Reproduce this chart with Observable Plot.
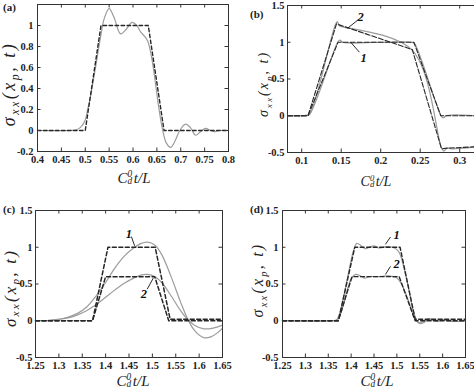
<!DOCTYPE html>
<html><head><meta charset="utf-8">
<script src="https://cdn.jsdelivr.net/npm/d3@7"></script>
<script src="https://cdn.jsdelivr.net/npm/@observablehq/plot@0.6"></script>
<style>
html,body{margin:0;padding:0;background:#fff;}
#root{position:relative;width:474px;height:390px;overflow:hidden;font-family:"Liberation Serif",serif;color:#222;}
.panel{position:absolute;}
.plab{position:absolute;font:bold 11px "Liberation Serif",serif;}
.ylab{position:absolute;transform:translate(-50%,-50%) rotate(-90deg);white-space:nowrap;font-family:"Liberation Serif",serif;font-style:italic;}
.ylab sub{font-size:0.66em;vertical-align:-0.35em;}
.xlab{position:absolute;transform:translate(-50%,-50%);white-space:nowrap;font-family:"Liberation Serif",serif;font-style:italic;}
.stk{position:relative;display:inline-block;width:0.42em;height:1em;vertical-align:top;}
.stk span{position:absolute;left:0;font-size:0.62em;line-height:1;}
.stk .sp{top:-0.05em;}
.stk .sb{top:0.72em;}
</style></head><body><div id="root"></div><script>
// ---------- data ----------
// panel (a)
const aDashX = [0.40, 0.50, 0.533, 0.632, 0.665, 0.80];
const aDash  = [0, 0, 1, 1, 0, 0];
const aX = [0.40,0.47,0.48,0.49,0.50,0.505,0.51,0.5215,0.532,0.54,0.55,0.56,0.574,0.585,0.598,0.608,0.616,0.63,0.64,0.647,0.654,0.661,0.67,0.679,0.688,0.698,0.71,0.72,0.731,0.742,0.752,0.762,0.77,0.78,0.80];
const aSolid = [0,0,0.005,0.03,0.1,0.2,0.3,0.6,0.89,1.07,1.16,1.08,0.92,0.96,1.03,1.0,0.94,0.86,0.67,0.45,0.22,0.03,-0.12,-0.16,-0.1,0.0,0.06,0.03,-0.045,-0.01,0.02,0.0,-0.01,0.0,0];
const aXTicks = [0.4,0.45,0.5,0.55,0.6,0.65,0.7,0.75,0.8];
const aYTicks = [-0.2,0,0.2,0.4,0.6,0.8,1];

// panel (b)
const b1DashX = [0.082, 0.108, 0.146, 0.242, 0.276, 0.324];
const b1Dash  = [0, 0, 1, 1, 0, 0];
const b2DashX = [0.082, 0.108, 0.144, 0.240, 0.277, 0.285, 0.324];
const b2Dash  = [0, 0, 1.25, 0.9, -0.45, -0.44, -0.42];
const b1X = [0.082,0.106,0.11,0.145,0.148,0.152,0.16,0.24,0.243,0.276,0.279,0.283,0.29,0.324];
const b1Solid = [0,0.005,0.02,0.99,1.03,1.0,0.99,1.0,0.98,0.01,-0.03,0,0.01,0];
const b2X = [0.082,0.106,0.11,0.142,0.145,0.148,0.152,0.24,0.277,0.28,0.284,0.29,0.324];
const b2Solid = [0,0.005,0.02,1.22,1.28,1.22,1.21,0.89,-0.44,-0.48,-0.44,-0.45,-0.42];
const bXTicks = [0.1,0.15,0.2,0.25,0.3];
const bYTicks = [-0.5,0,0.5,1,1.5];
const bNotes = [{t:"2", x:0.1747, y:1.34, x1:0.158, y1:1.19, x2:0.172, y2:1.31},
                {t:"1", x:0.1785, y:0.79, x1:0.162, y1:1.0, x2:0.173, y2:0.865}];

// panel (c)
const c1DashX = [1.25, 1.372, 1.405, 1.506, 1.538, 1.65];
const c1Dash  = [0, 0, 1, 1, 0.02, 0.02];
const c2DashX = [1.25, 1.372, 1.40, 1.505, 1.535, 1.65];
const c2Dash  = [0, 0, 0.6, 0.6, 0, 0];
const c1X = [1.25,1.28,1.30,1.32,1.34,1.36,1.38,1.40,1.42,1.44,1.46,1.475,1.49,1.505,1.52,1.54,1.56,1.575,1.59,1.61,1.625,1.64,1.65];
const c1Solid = [0,0.005,0.02,0.05,0.1,0.19,0.34,0.52,0.72,0.88,0.99,1.05,1.07,1.03,0.9,0.6,0.26,0.03,-0.13,-0.23,-0.22,-0.16,-0.1];
const c2X = [1.25,1.28,1.30,1.32,1.34,1.36,1.38,1.40,1.42,1.44,1.46,1.475,1.49,1.505,1.52,1.54,1.56,1.575,1.59,1.61,1.63,1.65];
const c2Solid = [0,0.005,0.02,0.04,0.08,0.14,0.22,0.32,0.42,0.51,0.58,0.62,0.63,0.6,0.52,0.34,0.14,0.02,-0.06,-0.11,-0.1,-0.06];
const cdXTicks = [1.25,1.3,1.35,1.4,1.45,1.5,1.55,1.6,1.65];
const cdYTicks = [-0.5,0,0.5,1,1.5];
const cNotes = [{t:"1", x:1.4496, y:1.18, x1:1.455, y1:1.146, x2:1.462, y2:1.02},
                {t:"2", x:1.4817, y:0.364, x1:1.489, y1:0.43, x2:1.502, y2:0.58}];

// panel (d)
const d1DashX = [1.25, 1.372, 1.408, 1.507, 1.54, 1.65];
const d1Dash  = [0, 0, 1, 1, 0.02, 0.02];
const d2DashX = [1.25, 1.372, 1.402, 1.505, 1.54, 1.65];
const d2Dash  = [0, 0, 0.6, 0.6, 0, 0];
const d1X = [1.25,1.36,1.368,1.375,1.405,1.412,1.42,1.43,1.44,1.45,1.46,1.47,1.48,1.495,1.505,1.52,1.54,1.55,1.56,1.57,1.58,1.59,1.60,1.61,1.62,1.635,1.65];
const d1Solid = [0,0,0.01,0.1,0.95,1.05,1.03,0.98,1.0,1.02,0.99,1.0,1.01,0.99,0.93,0.6,0.05,-0.04,-0.02,0.03,0.01,-0.01,0.02,0,0.01,-0.01,0.01];
const d2X = [1.25,1.36,1.368,1.375,1.40,1.41,1.42,1.43,1.44,1.46,1.48,1.50,1.51,1.525,1.54,1.55,1.56,1.57,1.58,1.60,1.62,1.65];
const d2Solid = [0,0,0.008,0.06,0.57,0.63,0.61,0.58,0.6,0.6,0.61,0.58,0.5,0.28,0.02,-0.03,0,0.02,0,0.01,-0.01,0];
const dNotes = [{t:"1", x:1.4997, y:1.16, x1:1.475, y1:1.04, x2:1.486, y2:1.14},
                {t:"2", x:1.4997, y:0.77, x1:1.475, y1:0.63, x2:1.486, y2:0.74}];

// ---------- helpers ----------
const zip = (xs, ys) => xs.map((x, i) => ({x, y: ys[i]}));
const fmt = d => String(d);
const GRAY = "#9c9c9c", DARK = "#262626";

function panel(o) {
  const frameW = o.width - o.mL - o.mR, frameH = o.height - o.mT - o.mB;
  const marks = [];
  for (const s of o.solids) marks.push(Plot.line(s, {x: "x", y: "y", stroke: GRAY, strokeWidth: 1.2, curve: "catmull-rom"}));
  for (const s of o.dashes) marks.push(Plot.line(s, {x: "x", y: "y", stroke: DARK, strokeWidth: o.dw || 1.3, strokeDasharray: o.dash || "4,2.5"}));
  if (o.notes) {
    marks.push(Plot.link(o.notes, {x1: "x1", y1: "y1", x2: "x2", y2: "y2", stroke: "#111", strokeWidth: 0.9}));
    marks.push(Plot.text(o.notes, {x: "x", y: "y", text: "t", fontSize: 12.5, fontStyle: "italic", fontWeight: "bold", fill: "#111"}));
  }
  marks.push(Plot.frame({stroke: "#333", strokeWidth: 1}));
  marks.push(Plot.tickX(o.xTicks, {x: d => d, insetTop: frameH - 3.5, stroke: "#333"}));
  marks.push(Plot.tickX(o.xTicks, {x: d => d, insetBottom: frameH - 3.5, stroke: "#333"}));
  marks.push(Plot.tickY(o.yTicks, {y: d => d, insetRight: frameW - 3.5, stroke: "#333"}));
  marks.push(Plot.tickY(o.yTicks, {y: d => d, insetLeft: frameW - 3.5, stroke: "#333"}));
  marks.push(Plot.axisX({ticks: o.xTicks, tickSize: 0, tickPadding: 4, tickFormat: fmt, label: null}));
  marks.push(Plot.axisY({ticks: o.yTicks, tickSize: 0, tickPadding: o.yPad, tickFormat: fmt, label: null}));
  const svg = Plot.plot({
    width: o.width, height: o.height,
    marginLeft: o.mL, marginRight: o.mR, marginTop: o.mT, marginBottom: o.mB,
    x: {domain: o.xDomain, label: null},
    y: {domain: o.yDomain, label: null},
    style: {fontFamily: "'Liberation Serif', serif", fontWeight: "bold", fontSize: "10.5px", color: "#222", background: "transparent", overflow: "visible"},
    marks
  });
  svg.classList.add("panel");
  svg.style.left = o.left + "px";
  svg.style.top = o.top + "px";
  return svg;
}

const root = document.getElementById("root");

root.appendChild(panel({
  left: 0, top: 0, width: 237, height: 195, mL: 37, mR: 9, mT: 4, mB: 44, yPad: 4,
  xDomain: [0.4, 0.8], yDomain: [-0.2, 1.2], xTicks: aXTicks, yTicks: aYTicks,
  solids: [zip(aX, aSolid)], dashes: [zip(aDashX, aDash)], dash: "3.5,2.5", dw: 1.4
}));
root.appendChild(panel({
  left: 237, top: 0, width: 241, height: 195, mL: 50, mR: 0, mT: 5, mB: 43, yPad: 3,
  xDomain: [0.082, 0.3238], yDomain: [-0.5, 1.5], xTicks: bXTicks, yTicks: bYTicks,
  solids: [zip(b1X, b1Solid), zip(b2X, b2Solid)], dashes: [zip(b1DashX, b1Dash), zip(b2DashX, b2Dash)],
  dash: "5,2", dw: 1.1, notes: bNotes
}));
root.appendChild(panel({
  left: 0, top: 195, width: 237, height: 195, mL: 35, mR: 15, mT: 15, mB: 33, yPad: 3,
  xDomain: [1.25, 1.65], yDomain: [-0.5, 1.5], xTicks: cdXTicks, yTicks: cdYTicks,
  solids: [zip(c1X, c1Solid), zip(c2X, c2Solid)], dashes: [zip(c1DashX, c1Dash), zip(c2DashX, c2Dash)],
  dash: "4,2.5", dw: 1.5, notes: cNotes
}));
root.appendChild(panel({
  left: 237, top: 195, width: 237, height: 195, mL: 45, mR: 9, mT: 15, mB: 33, yPad: 4,
  xDomain: [1.25, 1.65], yDomain: [-0.5, 1.5], xTicks: cdXTicks, yTicks: cdYTicks,
  solids: [zip(d1X, d1Solid), zip(d2X, d2Solid)], dashes: [zip(d1DashX, d1Dash), zip(d2DashX, d2Dash)],
  dash: "4,2.5", dw: 1.4, notes: dNotes
}));

// ---------- text overlays ----------
function addHTML(cls, html, left, top, size, spacing) {
  const el = document.createElement("div");
  el.className = cls;
  el.innerHTML = html;
  el.style.left = left + "px";
  el.style.top = top + "px";
  if (size) el.style.fontSize = size + "px";
  if (spacing) el.style.letterSpacing = spacing + "px";
  root.appendChild(el);
}
const yTitle = "σ<sub>xx</sub>(x<sub>p</sub>, t)";
const xTitle = "C<span class='stk'><span class='sp'>0</span><span class='sb'>d</span></span>t/L";
addHTML("plab", "(a)", 3, 1);
addHTML("plab", "(b)", 250, 8);
addHTML("plab", "(c)", 3, 203);
addHTML("plab", "(d)", 250, 203);
addHTML("ylab", yTitle, 11, 84, 18, 2.5);
addHTML("ylab", yTitle, 265, 84, 14, 2);
addHTML("ylab", yTitle, 11, 288, 17, 2.2);
addHTML("ylab", yTitle, 259, 280, 16, 2.2);
addHTML("xlab", xTitle, 134, 178, 15);
addHTML("xlab", xTitle, 376, 182, 14);
addHTML("xlab", xTitle, 133, 381, 15);
addHTML("xlab", xTitle, 377, 381, 15);
</script></body></html>
